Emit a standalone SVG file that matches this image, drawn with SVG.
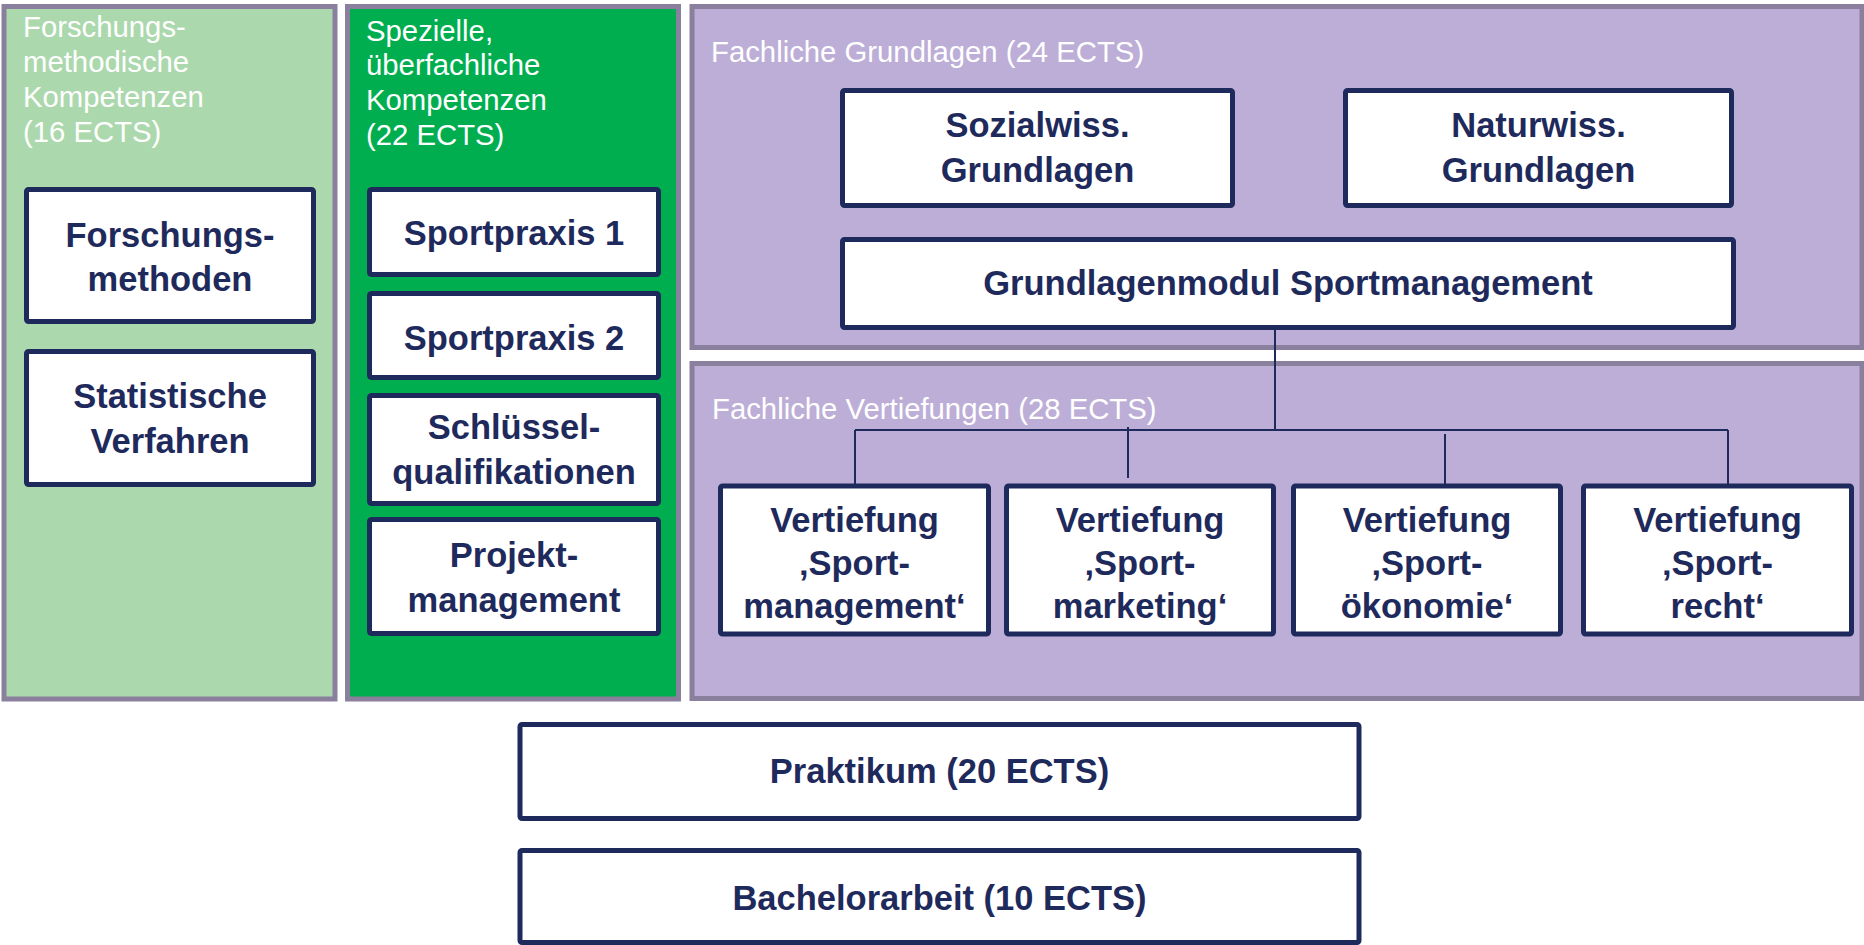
<svg xmlns="http://www.w3.org/2000/svg" width="1864" height="945" viewBox="0 0 1864 945">
<style>
.panel{stroke:#8a7f9d;stroke-width:5}
.box{fill:#ffffff;stroke:#1f2a5c;stroke-width:5}
.bt{font-family:"Liberation Sans",Arial,sans-serif;font-weight:bold;font-size:34.5px;fill:#1f2a5c;text-anchor:middle}
.pt{font-family:"Liberation Sans",Arial,sans-serif;font-size:29.3px;fill:#ffffff}
.con{stroke:#1f2a5c;stroke-width:2;fill:none}
</style>
<rect width="1864" height="945" fill="#ffffff"/>
<g id="panel-forschung">
<rect class="panel" x="4" y="6.5" width="331" height="692.5" fill="#acd8ad"/>
<text class="pt" x="23" y="37">Forschungs-</text>
<text class="pt" x="23" y="72">methodische</text>
<text class="pt" x="23" y="107">Kompetenzen</text>
<text class="pt" x="23" y="142">(16 ECTS)</text>
</g>
<g id="panel-speziell">
<rect class="panel" x="347.5" y="6.5" width="331" height="692.5" fill="#00ae50"/>
<text class="pt" x="366" y="41">Spezielle,</text>
<text class="pt" x="366" y="75">überfachliche</text>
<text class="pt" x="366" y="110">Kompetenzen</text>
<text class="pt" x="366" y="145">(22 ECTS)</text>
</g>
<g id="panel-grundlagen">
<rect class="panel" x="692" y="6.5" width="1170" height="341" fill="#bdaed7"/>
<text class="pt" x="711" y="62">Fachliche Grundlagen (24 ECTS)</text>
</g>
<g id="panel-vertiefungen">
<rect class="panel" x="692" y="363.5" width="1170" height="335" fill="#bdaed7"/>
<text class="pt" x="712" y="419">Fachliche Vertiefungen (28 ECTS)</text>
</g>
<g id="connectors">
<line class="con" x1="1275" y1="329" x2="1275" y2="430"/>
<line class="con" x1="855" y1="430" x2="1728" y2="430"/>
<line class="con" x1="855" y1="430" x2="855" y2="484"/>
<line class="con" x1="1128" y1="427" x2="1128" y2="478"/>
<line class="con" x1="1445" y1="434" x2="1445" y2="484"/>
<line class="con" x1="1728" y1="430" x2="1728" y2="484"/>
</g>
<g id="forschungsmethoden">
<rect class="box" x="26.5" y="189.5" width="287" height="132" rx="2"/>
<text class="bt" x="170" y="247">Forschungs-</text>
<text class="bt" x="170" y="291">methoden</text>
</g>
<g id="statistische-verfahren">
<rect class="box" x="26.5" y="351.5" width="287" height="133" rx="2"/>
<text class="bt" x="170" y="408">Statistische</text>
<text class="bt" x="170" y="453">Verfahren</text>
</g>
<g id="sportpraxis-1">
<rect class="box" x="369.5" y="189.5" width="289" height="85" rx="2"/>
<text class="bt" x="514" y="245">Sportpraxis 1</text>
</g>
<g id="sportpraxis-2">
<rect class="box" x="369.5" y="293.5" width="289" height="84" rx="2"/>
<text class="bt" x="514" y="350">Sportpraxis 2</text>
</g>
<g id="schluesselqualifikationen">
<rect class="box" x="369.5" y="395.5" width="289" height="108" rx="2"/>
<text class="bt" x="514" y="439">Schlüssel-</text>
<text class="bt" x="514" y="484">qualifikationen</text>
</g>
<g id="projektmanagement">
<rect class="box" x="369.5" y="519.5" width="289" height="114" rx="2"/>
<text class="bt" x="514" y="567">Projekt-</text>
<text class="bt" x="514" y="612">management</text>
</g>
<g id="sozialwiss">
<rect class="box" x="842.5" y="90.5" width="390" height="115" rx="2"/>
<text class="bt" x="1037.5" y="137">Sozialwiss.</text>
<text class="bt" x="1037.5" y="182">Grundlagen</text>
</g>
<g id="naturwiss">
<rect class="box" x="1345.5" y="90.5" width="386" height="115" rx="2"/>
<text class="bt" x="1538.5" y="137">Naturwiss.</text>
<text class="bt" x="1538.5" y="182">Grundlagen</text>
</g>
<g id="grundlagenmodul">
<rect class="box" x="842.5" y="239.5" width="891" height="88" rx="2"/>
<text class="bt" x="1288" y="295">Grundlagenmodul Sportmanagement</text>
</g>
<g id="vertiefung-sportmanagement">
<rect class="box" x="720.5" y="486" width="268" height="148" rx="2"/>
<text class="bt" x="854.5" y="532">Vertiefung</text>
<text class="bt" x="854.5" y="575">‚Sport-</text>
<text class="bt" x="854.5" y="618">management‘</text>
</g>
<g id="vertiefung-sportmarketing">
<rect class="box" x="1006.5" y="486" width="267" height="148" rx="2"/>
<text class="bt" x="1140" y="532">Vertiefung</text>
<text class="bt" x="1140" y="575">‚Sport-</text>
<text class="bt" x="1140" y="618">marketing‘</text>
</g>
<g id="vertiefung-sportoekonomie">
<rect class="box" x="1293.5" y="486" width="267" height="148" rx="2"/>
<text class="bt" x="1427" y="532">Vertiefung</text>
<text class="bt" x="1427" y="575">‚Sport-</text>
<text class="bt" x="1427" y="618">ökonomie‘</text>
</g>
<g id="vertiefung-sportrecht">
<rect class="box" x="1583.5" y="486" width="268" height="148" rx="2"/>
<text class="bt" x="1717.5" y="532">Vertiefung</text>
<text class="bt" x="1717.5" y="575">‚Sport-</text>
<text class="bt" x="1717.5" y="618">recht‘</text>
</g>
<g id="praktikum">
<rect class="box" x="520" y="724.5" width="839" height="94" rx="2"/>
<text class="bt" x="939.5" y="783">Praktikum (20 ECTS)</text>
</g>
<g id="bachelorarbeit">
<rect class="box" x="520" y="850.5" width="839" height="92" rx="2"/>
<text class="bt" x="939.5" y="910">Bachelorarbeit (10 ECTS)</text>
</g>
</svg>
